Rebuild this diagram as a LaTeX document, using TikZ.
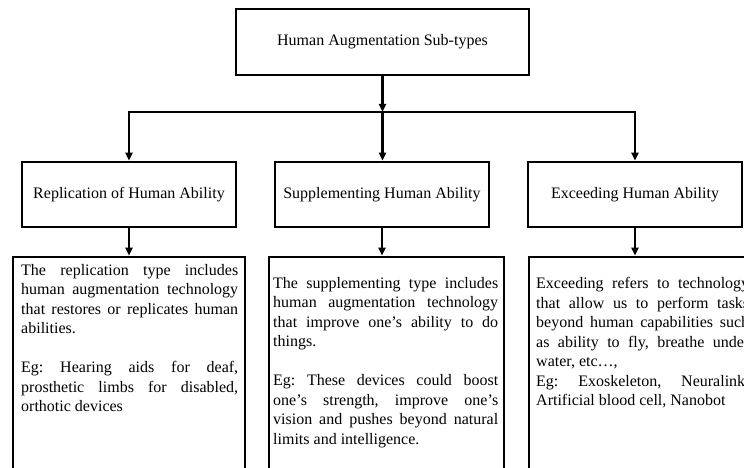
\documentclass[tikz,border=0pt]{standalone}
\usepackage{fontspec}
\setmainfont{Liberation Serif}
\usetikzlibrary{arrows.meta,calc}
\setlength{\parindent}{0pt}
\frenchspacing
\begin{document}
\begin{tikzpicture}[x=1pt,y=-1pt,
  txtfont/.style={font=\fontsize{16}{19.5}\selectfont},
  box/.style={draw, rectangle, line width=2.6pt, inner sep=0pt, txtfont},
  headbox/.style={box, minimum width=214pt, minimum height=65pt},
  textbox/.style={box, minimum height=243pt},
  link/.style={line width=2.2pt, -{Triangle[length=8pt,width=7pt]}},
  para/.style={inner sep=0pt, anchor=north west, align=justify, txtfont,
    execute at begin node={\frenchspacing\tolerance=10000\hyphenpenalty=10000\strut}}
]
\useasboundingbox (0,0) rectangle (744,468);
\clip (0,0) rectangle (744,468);
\fill[white] (0,0) rectangle (744,468);

% root
\node[box, minimum width=293pt, minimum height=66pt] (top) at (382.5,42) {Human Augmentation Sub-types};

% the three sub-types
\node[headbox] (rep) at (129,194.5) {Replication of Human Ability};
\node[headbox] (sup) at (382,194.5) {Supplementing Human Ability};
\node[headbox] (exc) at (635,194.5) {Exceeding Human Ability};

% description frames
\node[textbox, minimum width=232pt] (repT) at (129,378.5) {};
\node[textbox, minimum width=235pt] (supT) at (386.5,378.5) {};
\node[textbox, minimum width=233pt] (excT) at (645.5,378.5) {};

% descriptions
\node[para, text width=217pt] (repP) at (21,261.4) {The replication type includes\linebreak
human augmentation technology\linebreak
that restores or replicates human\linebreak
abilities.\par\mbox{}\par
Eg: Hearing aids for deaf,\linebreak
prosthetic limbs for disabled,\linebreak
orthotic devices};

\node[para, text width=225pt] (supP) at (273,274.4) {The supplementing type includes\linebreak
human augmentation technology\linebreak
that improve one’s ability to do\linebreak
things.\par\mbox{}\par
Eg: These devices could boost\linebreak
one’s strength, improve one’s\linebreak
vision and pushes beyond natural\linebreak
limits and intelligence.};

\node[para, text width=213pt] (excP) at (536,275) {Exceeding refers to technology\linebreak
that allow us to perform tasks\linebreak
beyond human capabilities such\linebreak
as ability to fly, breathe under\linebreak
water, etc…,\par
Eg: Exoskeleton, Neuralink,\linebreak
Artificial blood cell, Nanobot};

% connectors
\coordinate (bus) at (382.5,112);
\draw[link] (top.south) -- (bus);
\draw[link] (bus) -| (rep.north);
\draw[link] (bus) -| (exc.north);
\draw[link] (bus) -- (bus |- sup.north);
\draw[link] (rep.south) -- (rep.south |- repT.north);
\draw[link] (sup.south) -- (sup.south |- supT.north);
\draw[link] (exc.south) -- (exc.south |- excT.north);
\end{tikzpicture}
\end{document}
